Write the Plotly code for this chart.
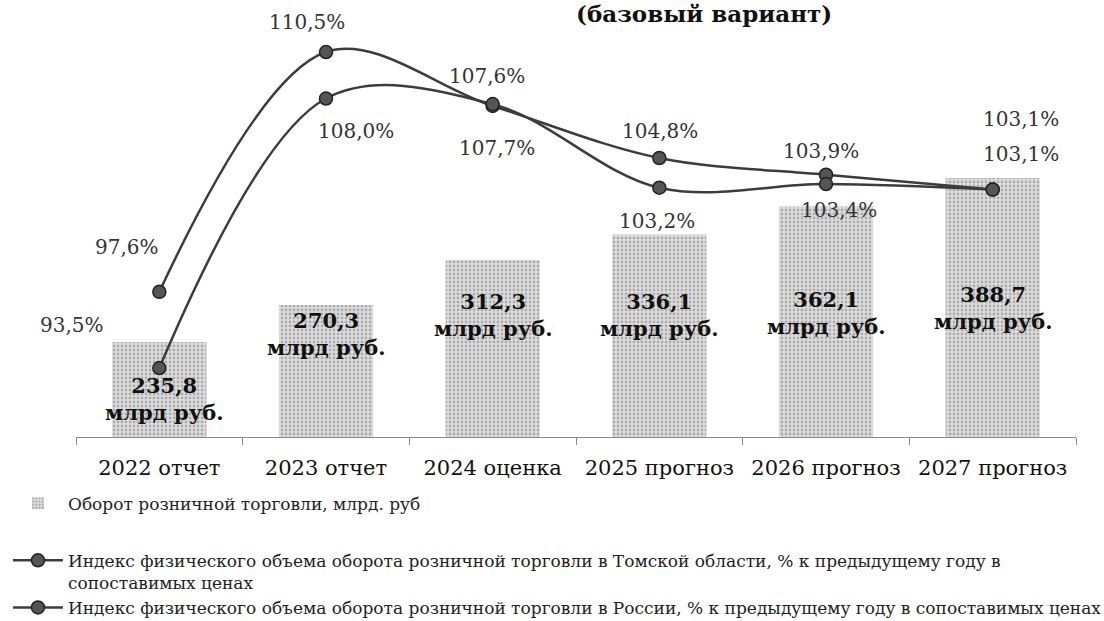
import plotly.graph_objs as go

# data
categories = ['2022 отчет', '2023 отчет', '2024 оценка', '2025 прогноз', '2026 прогноз', '2027 прогноз']
turnover = [235.8, 270.3, 312.3, 336.1, 362.1, 388.7]          # млрд руб.
index_tomsk = [97.6, 110.5, 107.6, 104.8, 103.9, 103.1]       # % к предыдущему году
index_russia = [93.5, 108.0, 107.7, 103.2, 103.4, 103.1]

FONT = 'DejaVu Serif'

# label offsets in pixels (dx, dy) relative to the marker / bar top
tomsk_off = [(-32, 45), (-19, 30), (-6, 30), (1, 27), (-5, 24), (28, 71)]
russia_off = [(-87, 43), (30, -32), (4, -44), (-2, -33), (13, -26), (28, 36)]
bar_off = [(5, -57), (0, -29), (0, -55), (0, -81), (0, -106), (0, -130)]


def fmt(v, suffix=''):
    return ('%.1f' % v).replace('.', ',') + suffix


fig = go.Figure()

fig.add_trace(go.Bar(x=categories, y=turnover, width=0.565,
                     name='Оборот розничной торговли, млрд. руб',
                     legendgroup='a',
                     marker=dict(color='#dedede', line=dict(width=0),
                                 pattern=dict(shape='.', fgcolor='#7a7a7a', bgcolor='#dedede',
                                              size=4, solidity=0.4)),
                     hoverinfo='skip'))

line_style = dict(color='#3c3c3c', width=2.5, shape='spline', smoothing=1.0)
marker_style = dict(size=13, color='#555555', line=dict(color='#222222', width=1.5))

fig.add_trace(go.Scatter(x=categories, y=index_tomsk, yaxis='y2', mode='lines+markers',
                         name='Индекс физического объема оборота розничной торговли в Томской области, % к предыдущему году в<br>сопоставимых ценах',
                         legendgroup='b',
                         line=line_style, marker=marker_style, hoverinfo='skip'))
fig.add_trace(go.Scatter(x=categories, y=index_russia, yaxis='y2', mode='lines+markers',
                         name='Индекс физического объема оборота розничной торговли в России, % к предыдущему году в сопоставимых ценах',
                         legendgroup='b',
                         line=line_style, marker=marker_style, hoverinfo='skip'))

annotations = []
for i, c in enumerate(categories):
    dx, dy = bar_off[i]
    annotations.append(dict(x=c, y=turnover[i], xref='x', yref='y', showarrow=False,
                            text='<b>' + fmt(turnover[i]) + '<br>млрд руб.</b>',
                            font=dict(family=FONT, size=21, color='#111111'),
                            xshift=dx, yshift=dy, yanchor='middle'))
    dx, dy = tomsk_off[i]
    annotations.append(dict(x=c, y=index_tomsk[i], xref='x', yref='y2', showarrow=False,
                            text=fmt(index_tomsk[i], '%'),
                            font=dict(family=FONT, size=20, color='#333333'),
                            xshift=dx, yshift=dy))
    dx, dy = russia_off[i]
    annotations.append(dict(x=c, y=index_russia[i], xref='x', yref='y2', showarrow=False,
                            text=fmt(index_russia[i], '%'),
                            font=dict(family=FONT, size=20, color='#333333'),
                            xshift=dx, yshift=dy))

annotations.append(dict(x=0.628, y=1, xref='paper', yref='paper', showarrow=False,
                        text='<b>(базовый вариант)</b>', yanchor='top', yshift=2,
                        font=dict(family=FONT, size=23, color='#111111')))

fig.update_layout(
    width=1104, height=621,
    margin=dict(l=76, r=28, t=0, b=184, autoexpand=False),
    paper_bgcolor='white', plot_bgcolor='white',
    font=dict(family=FONT, color='#222222'),
    showlegend=True,
    legend=dict(x=0.0072, y=0.218, xref='container', yref='container',
                xanchor='left', yanchor='top',
                orientation='v', traceorder='grouped', tracegroupgap=32,
                itemwidth=50, valign='top',
                font=dict(family=FONT, size=17, color='#222222')),
    xaxis=dict(type='category', range=[-0.5, 5.5], showgrid=False,
               showline=True, linecolor='#8a8a8a', linewidth=1,
               ticks='outside', tickson='boundaries', ticklen=7, tickcolor='#8a8a8a',
               ticklabelstandoff=12,
               tickfont=dict(family=FONT, size=21, color='#111111')),
    yaxis=dict(range=[147.23, 554.7], visible=False, showgrid=False),
    yaxis2=dict(range=[89.79, 113.30], overlaying='y', visible=False, showgrid=False),
    annotations=annotations,
    bargap=0.4,
)

fig.write_html("out.html", config={'displayModeBar': False},
               post_script="document.body.style.margin='0';")
